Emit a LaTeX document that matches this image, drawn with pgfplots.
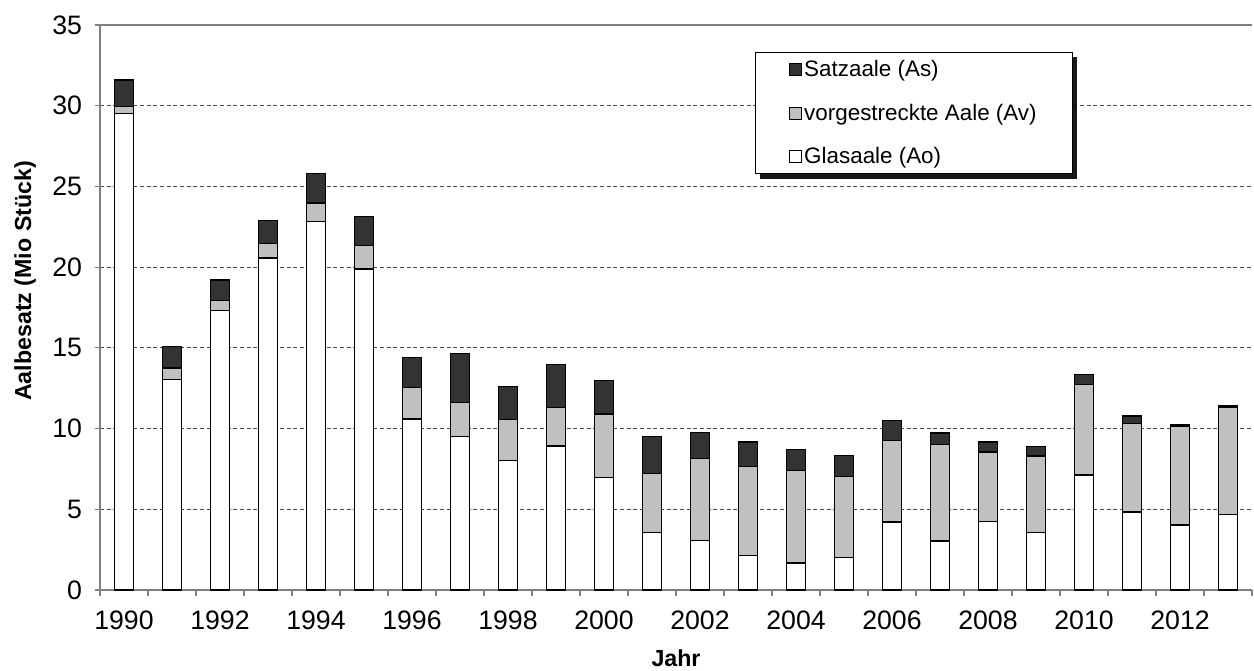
\documentclass[border=0pt]{standalone}
\usepackage{pgfplots}
\pgfplotsset{compat=1.18}
\usepackage{fontspec}
\setmainfont{Liberation Sans}
\usetikzlibrary{shadows}
\definecolor{darkbar}{HTML}{333333}
\definecolor{graybar}{HTML}{C0C0C0}
\definecolor{axgray}{HTML}{808080}
\makeatletter
\tikzset{no preaction/.code={\let\tikz@preactions\pgfutil@empty}}
\makeatother
\begin{document}
\begin{tikzpicture}
\begin{axis}[
  scale only axis,
  width=864pt, height=423.75pt,
  ybar stacked, bar width=14.6pt,
  xmin=1989.5, xmax=2013.5,
  ymin=0, ymax=35,
  font=\fontsize{16.5}{19}\selectfont,
  /pgf/number format/assume math mode=true,
  tick label style={font=\fontsize{20}{23}\selectfont},
  xtick={1990,1992,...,2012},
  xticklabels={1990,1992,1994,1996,1998,2000,2002,2004,2006,2008,2010,2012},
  major x tick style={draw=none},
  minor xtick={1989.5,1990.5,...,2013.5},
  minor x tick style={axgray, line width=0.8pt},
  x tick label style={yshift=-8pt},
  ytick={0,5,...,30},
  extra y ticks={35},
  extra y tick style={grid style={solid, axgray, line width=0.8pt}},
  ymajorgrids,
  grid style={densely dashed, black!70, line width=0.6pt},
  tick align=outside,
  major tick length=4pt, minor tick length=4.5pt,
  y tick style={axgray, line width=0.8pt},
  y tick label style={xshift=-6pt},
  axis x line*=bottom, axis y line*=left,
  axis line style={axgray, line width=0.8pt, -},
  xlabel={\bfseries Jahr},
  ylabel={\bfseries Aalbesatz (Mio Stück)},
  label style={font=\fontsize{17.4}{20}\selectfont},
  xlabel style={at={(axis description cs:0.5,-0.1345)}, anchor=base},
  ylabel style={at={(axis description cs:-0.0651,0.547)}, anchor=center},
  every axis plot/.append style={draw=black, line width=1pt},
  reverse legend,
  legend style={at={(axis description cs:0.5686,0.952)}, anchor=north west,
    draw=black, line width=0.6pt, fill=white,
    drop shadow={shadow xshift=3.5pt, shadow yshift=-3.5pt, fill=black, opacity=0.9},
    inner xsep=25pt, inner ysep=4pt, row sep=15pt,
    font=\fontsize{16.8}{19.5}\selectfont,
    /tikz/every even column/.append style={column sep=1pt}},
  legend cell align=left,
  legend image code/.code={\draw[no preaction, #1, line width=0.6pt] (0pt,-4.5pt) rectangle (9pt,4.5pt);},
]
\addplot[fill=white] coordinates {
(1990,29.5) (1991,13.05) (1992,17.32) (1993,20.56) (1994,22.83) (1995,19.88)
(1996,10.6) (1997,9.5) (1998,8.02) (1999,8.93) (2000,6.96) (2001,3.57)
(2002,3.08) (2003,2.15) (2004,1.67) (2005,2.02) (2006,4.21) (2007,3.03)
(2008,4.26) (2009,3.57) (2010,7.13) (2011,4.84) (2012,4.03) (2013,4.69)};
\addlegendentry{Glasaale (Ao)}
\addplot[fill=graybar] coordinates {
(1990,0.45) (1991,0.7) (1992,0.62) (1993,0.89) (1994,1.14) (1995,1.45)
(1996,1.95) (1997,2.11) (1998,2.56) (1999,2.39) (2000,3.95) (2001,3.66)
(2002,5.06) (2003,5.52) (2004,5.75) (2005,5.01) (2006,5.05) (2007,5.97)
(2008,4.29) (2009,4.74) (2010,5.58) (2011,5.47) (2012,6.12) (2013,6.61)};
\addlegendentry{vorgestreckte Aale (Av)}
\addplot[fill=darkbar] coordinates {
(1990,1.65) (1991,1.35) (1992,1.26) (1993,1.45) (1994,1.82) (1995,1.81)
(1996,1.86) (1997,3.02) (1998,2.02) (1999,2.63) (2000,2.07) (2001,2.26)
(2002,1.61) (2003,1.5) (2004,1.28) (2005,1.3) (2006,1.23) (2007,0.72)
(2008,0.62) (2009,0.6) (2010,0.62) (2011,0.46) (2012,0.12) (2013,0.09)};
\addlegendentry{Satzaale (As)}
\end{axis}
\path ([shift={(-75pt,-58.5pt)}]current axis.south west) rectangle ([shift={(1.5pt,18.75pt)}]current axis.north east);
\end{tikzpicture}
\end{document}
